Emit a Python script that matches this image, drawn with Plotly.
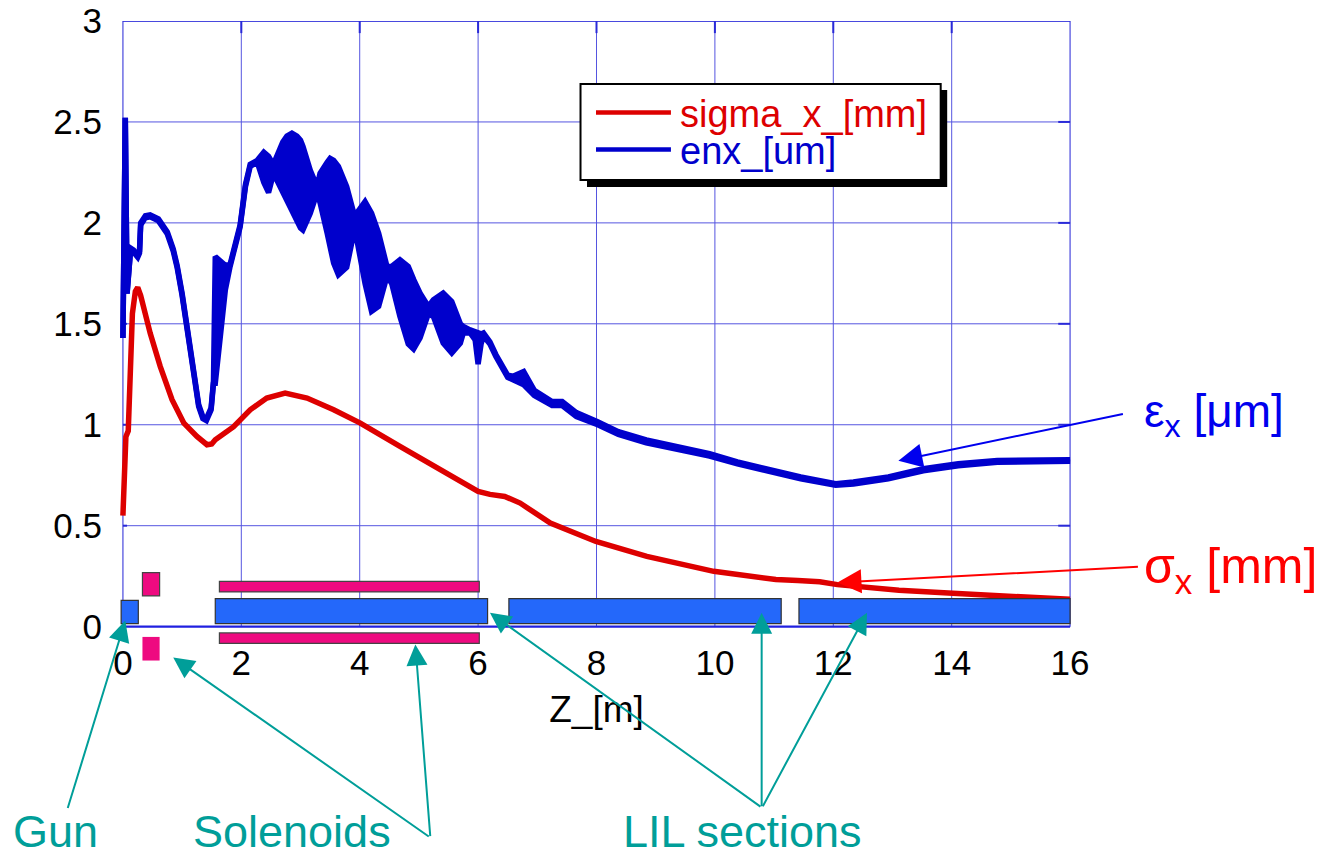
import plotly.graph_objects as go

# ---------------- data ----------------
z_sigma = [0.00, 0.02, 0.05, 0.09, 0.12, 0.16, 0.21, 0.25, 0.30, 0.46, 0.63, 0.83, 1.03,
           1.25, 1.42, 1.50, 1.56, 1.87, 2.15, 2.43, 2.74, 3.11, 3.56, 4.01, 4.68, 5.25,
           5.53, 6.00, 6.20, 6.45, 6.71, 7.05, 7.22, 7.99, 8.85, 9.98, 11.03, 11.40,
           11.77, 12.07, 13.11, 14.02, 15.01, 16.00]
sigma_x = [0.55, 0.75, 0.94, 0.97, 1.25, 1.55, 1.66, 1.68, 1.64, 1.454, 1.289, 1.124, 1.008,
           0.942, 0.901, 0.905, 0.926, 0.99, 1.074, 1.132, 1.157, 1.132, 1.074, 1.008, 0.893, 0.80,
           0.752, 0.67, 0.655, 0.645, 0.612, 0.546, 0.513, 0.422, 0.348, 0.274, 0.233, 0.228,
           0.222, 0.208, 0.18, 0.165, 0.15, 0.135]

z_enx = [0.00, 0.04, 0.07, 0.10, 0.13, 0.18, 0.25, 0.28, 0.30, 0.38, 0.46, 0.60, 0.75, 0.85,
         0.915, 1.00, 1.055, 1.168, 1.28, 1.35, 1.41, 1.49, 1.53, 1.56, 1.645, 1.73, 1.81,
         1.90, 1.98, 2.07, 2.15, 2.27, 2.32, 2.38, 2.46, 2.54, 2.57, 2.70, 2.77, 2.855, 2.94,
         3.00, 3.04, 3.165, 3.28, 3.33, 3.45, 3.50, 3.56, 3.64, 3.78, 3.90, 3.95, 4.09, 4.20,
         4.32, 4.46, 4.54, 4.68, 4.82, 4.91, 5.02, 5.16, 5.245, 5.41, 5.555, 5.70, 5.75, 5.865,
         5.95, 6.00, 6.05, 6.09, 6.20, 6.30, 6.50, 6.59, 6.77, 6.95, 7.10, 7.25, 7.42, 7.66,
         8.02, 8.37, 8.84, 9.38, 9.91, 10.38, 10.86, 11.45, 12.04, 12.34, 12.93, 13.18, 13.52,
         14.11, 14.59, 14.77, 16.00]
enx_lo = [1.43, 2.52, 1.65, 1.82, 1.865, 1.855, 1.83, 1.85, 1.99, 2.025, 2.03, 2.01, 1.945, 1.86,
          1.78, 1.64, 1.536, 1.289, 1.09, 1.03, 1.02, 1.074, 1.206, 1.206, 1.454, 1.668, 1.784,
          1.90, 1.98, 2.18, 2.28, 2.30, 2.246, 2.20, 2.15, 2.24, 2.23, 2.15, 2.114, 2.06, 2.00,
          1.975, 1.965, 2.048, 2.15, 2.10, 1.949, 1.88, 1.80, 1.743, 1.78, 1.95, 1.92, 1.70, 1.561,
          1.586, 1.735, 1.70, 1.536, 1.40, 1.375, 1.43, 1.55, 1.536, 1.404, 1.355, 1.404, 1.454, 1.455,
          1.42, 1.30, 1.40, 1.44, 1.40, 1.338, 1.235, 1.222, 1.198, 1.145, 1.12, 1.095, 1.095, 1.04,
          1.00, 0.952, 0.91, 0.879, 0.845, 0.806, 0.770, 0.732, 0.700, 0.707, 0.732, 0.748, 0.772,
          0.797, 0.806, 0.814, 0.819]
enx_hi = [1.43, 2.52, 1.65, 1.82, 1.875, 1.865, 1.84, 1.86, 2.00, 2.035, 2.04, 2.02, 1.955, 1.87,
          1.79, 1.65, 1.546, 1.299, 1.10, 1.04, 1.03, 1.084, 1.216, 1.833, 1.81, 1.79, 1.794,
          1.91, 1.99, 2.19, 2.29, 2.31, 2.33, 2.35, 2.33, 2.29, 2.31, 2.40, 2.43, 2.444, 2.43,
          2.41, 2.38, 2.26, 2.18, 2.246, 2.30, 2.32, 2.31, 2.28, 2.18, 2.048, 2.048, 2.105, 2.048,
          1.949, 1.784, 1.784, 1.817, 1.784, 1.72, 1.652, 1.586, 1.619, 1.652, 1.61, 1.50, 1.487, 1.47,
          1.46, 1.45, 1.45, 1.455, 1.41, 1.348, 1.245, 1.24, 1.264, 1.17, 1.14, 1.115, 1.115, 1.06,
          1.015, 0.966, 0.925, 0.891, 0.857, 0.816, 0.780, 0.741, 0.708, 0.716, 0.741, 0.757, 0.782,
          0.807, 0.815, 0.823, 0.827]

tick_z = [0, 2, 4, 6, 8, 10, 12, 14, 16]
tick_y = [0, 0.5, 1, 1.5, 2, 2.5, 3]
tick_y_text = ["0", "0.5", "1", "1.5", "2", "2.5", "3"]

# beam-line elements
gun_z = [-0.03, 0.26]
gun_y = [0.015, 0.13]
lil_z0 = [1.56, 6.52, 11.42]
lil_z1 = [6.16, 11.12, 16.0]
lil_y = [0.015, 0.139]
sol_z0 = [0.33, 1.63]
sol_z1 = [0.62, 6.02]
sol_top_y0 = [0.152, 0.172]
sol_top_y1 = [0.267, 0.224]
sol_bot_y0 = [-0.168, -0.083]
sol_bot_y1 = [-0.051, -0.031]

# ---------------- geometry ----------------
OFF = 8                      # page body margin
W, H = 1330 - OFF, 857 - OFF
XR = [-0.1, 16.1]
YR = [-0.2, 3.0]
ML = 116.575 - OFF
MT = 21 - OFF
PW = 959.85
PH = 646.4
MR = W - ML - PW
MB = H - MT - PH


def pxx(px):
    return (px - OFF - ML) / PW


def pxy(py):
    return (MT + PH - (py - OFF)) / PH


RED = "#DD0000"
BLUE = "#0000CC"
GRID = "#5555E0"
FRAME = "#2a2ad8"
TEAL = "#009E99"
LILC = "#2468FA"
PINK = "#EE0A80"
FONT = "Liberation Sans, Arial, sans-serif"

fig = go.Figure()
fig.add_trace(go.Scatter(x=z_sigma, y=sigma_x, mode="lines", name="sigma_x_[mm]",
                         line=dict(color=RED, width=5.5), showlegend=False))
fig.add_trace(go.Scatter(x=z_enx, y=enx_lo, mode="lines", name="enx_[um]", legendgroup="enx",
                         line=dict(color=BLUE, width=5.5), showlegend=False))
fig.add_trace(go.Scatter(x=z_enx, y=enx_hi, mode="lines", name="enx_[um]", legendgroup="enx",
                         line=dict(color=BLUE, width=5.5), fill="tonexty", fillcolor=BLUE,
                         showlegend=False))

shapes = []
# grid
for yv in tick_y[1:]:
    shapes.append(dict(type="line", xref="x", yref="y", x0=tick_z[0], x1=tick_z[-1], y0=yv, y1=yv,
                       line=dict(color=GRID, width=1), layer="below"))
for zv in tick_z:
    shapes.append(dict(type="line", xref="x", yref="y", x0=zv, x1=zv, y0=tick_y[0], y1=tick_y[-1],
                       line=dict(color=GRID, width=1.3 if zv in (tick_z[0], tick_z[-1]) else 1),
                       layer="below"))
# frame
shapes.append(dict(type="line", xref="x", yref="y", x0=tick_z[0], x1=tick_z[-1], y0=tick_y[-1], y1=tick_y[-1],
                   line=dict(color=FRAME, width=1.6), layer="below"))
shapes.append(dict(type="line", xref="x", yref="y", x0=tick_z[0], x1=tick_z[-1], y0=0, y1=0,
                   line=dict(color="#2020E0", width=2.2), layer="above"))
# small ticks (top / right / left)
for zv in tick_z[1:-1]:
    shapes.append(dict(type="line", xref="x", yref="y", x0=zv, x1=zv, y0=3.0, y1=2.94,
                       line=dict(color=FRAME, width=2), layer="below"))
for yv in tick_y[1:-1]:
    shapes.append(dict(type="line", xref="x", yref="y", x0=15.8, x1=16.0, y0=yv, y1=yv,
                       line=dict(color=FRAME, width=2), layer="below"))
    shapes.append(dict(type="line", xref="x", yref="y", x0=0, x1=0.07, y0=yv, y1=yv,
                       line=dict(color=FRAME, width=2), layer="below"))

# beam-line elements
shapes.append(dict(type="rect", xref="x", yref="y", x0=gun_z[0], x1=gun_z[1], y0=gun_y[0], y1=gun_y[1],
                   fillcolor=LILC, line=dict(color="#333333", width=1.2), layer="above"))
for a, b in zip(lil_z0, lil_z1):
    shapes.append(dict(type="rect", xref="x", yref="y", x0=a, x1=b, y0=lil_y[0], y1=lil_y[1],
                       fillcolor=LILC, line=dict(color="#333333", width=1.2), layer="above"))
for i, (a, b) in enumerate(zip(sol_z0, sol_z1)):
    shapes.append(dict(type="rect", xref="x", yref="y", x0=a, x1=b, y0=sol_top_y0[i], y1=sol_top_y1[i],
                       fillcolor=PINK, line=dict(color="#444444", width=1.2), layer="above"))
    shapes.append(dict(type="rect", xref="x", yref="y", x0=a, x1=b, y0=sol_bot_y0[i], y1=sol_bot_y1[i],
                       fillcolor=PINK, line=dict(color="#444444" if i else PINK, width=1.2 if i else 0),
                       layer="above"))

# legend box (drawn manually)
shapes.append(dict(type="rect", xref="paper", yref="paper", x0=pxx(587), x1=pxx(947.5),
                   y0=pxy(187), y1=pxy(90), fillcolor="black", line=dict(width=0), layer="above"))
shapes.append(dict(type="rect", xref="paper", yref="paper", x0=pxx(580.5), x1=pxx(941),
                   y0=pxy(180), y1=pxy(84), fillcolor="white", line=dict(color="black", width=2),
                   layer="above"))
shapes.append(dict(type="line", xref="paper", yref="paper", x0=pxx(596), x1=pxx(671),
                   y0=pxy(112.5), y1=pxy(112.5), line=dict(color=RED, width=4.5), layer="above"))
shapes.append(dict(type="line", xref="paper", yref="paper", x0=pxx(596), x1=pxx(671),
                   y0=pxy(149.5), y1=pxy(149.5), line=dict(color=BLUE, width=4.5), layer="above"))

ann = []
ann.append(dict(xref="paper", yref="paper", x=pxx(678), y=pxy(114), xanchor="left", yanchor="middle",
                text="sigma_x_[mm]", showarrow=False, font=dict(family=FONT, size=38, color=RED)))
ann.append(dict(xref="paper", yref="paper", x=pxx(678), y=pxy(151), xanchor="left", yanchor="middle",
                text="enx_[um]", showarrow=False, font=dict(family=FONT, size=38, color=BLUE)))
# right-hand labels
ann.append(dict(xref="paper", yref="paper", x=pxx(1142), y=pxy(415), xanchor="left", yanchor="middle",
                text="ε<sub>x</sub> [μm]", showarrow=False, font=dict(family=FONT, size=46, color="#0000EE")))
ann.append(dict(xref="paper", yref="paper", x=pxx(1142), y=pxy(570), xanchor="left", yanchor="middle",
                text="σ<sub>x</sub> [mm]", showarrow=False, font=dict(family=FONT, size=50, color="#FF0000")))
# bottom labels
ann.append(dict(xref="paper", yref="paper", x=pxx(55), y=pxy(832), xanchor="center", yanchor="middle",
                text="Gun", showarrow=False, font=dict(family=FONT, size=45, color=TEAL)))
ann.append(dict(xref="paper", yref="paper", x=pxx(292), y=pxy(832), xanchor="center", yanchor="middle",
                text="Solenoids", showarrow=False, font=dict(family=FONT, size=45, color=TEAL)))
ann.append(dict(xref="paper", yref="paper", x=pxx(742), y=pxy(832), xanchor="center", yanchor="middle",
                text="LIL sections", showarrow=False, font=dict(family=FONT, size=45, color=TEAL)))


def arrow(xd, yd, ax, ay, color, width, size):
    return dict(xref="x", yref="y", x=xd, y=yd, ax=ax, ay=ay, axref="pixel", ayref="pixel",
                text="", showarrow=True, arrowhead=2, arrowsize=size, arrowwidth=width,
                arrowcolor=color, standoff=0)


ann.append(arrow(13.1, 0.822, 226, -47, "#0000EE", 2, 2.4))
ann.append(arrow(12.07, 0.218, 302, -16, "#FF0000", 2, 2.4))
ann.append(arrow(0.04, 0.03, -58, 189, TEAL, 2, 2.1))
ann.append(arrow(0.85, -0.153, 257, 180, TEAL, 2, 2.1))
ann.append(arrow(4.94, -0.089, 15, 193, TEAL, 2, 2.1))
ann.append(arrow(6.2, 0.069, 272, 195, TEAL, 2, 2.1))
ann.append(arrow(10.79, 0.069, 0, 195, TEAL, 2, 2.1))
ann.append(arrow(12.57, 0.069, -105, 195, TEAL, 2, 2.1))

fig.update_layout(
    width=W, height=H, autosize=False,
    margin=dict(l=ML, r=MR, t=MT, b=MB, pad=0, autoexpand=False),
    paper_bgcolor="white", plot_bgcolor="white",
    showlegend=False,
    shapes=shapes, annotations=ann,
    font=dict(family=FONT, size=35, color="black"),
    xaxis=dict(range=XR, tickvals=tick_z, ticktext=[str(v) for v in tick_z],
               showgrid=False, zeroline=False, showline=False, ticks="", automargin=False,
               anchor="free", position=pxy(639.6), ticklabeloverflow="allow",
               tickfont=dict(family=FONT, size=35, color="black"),
               title=dict(text="Z_[m]", font=dict(family=FONT, size=37, color="black"), standoff=14)),
    yaxis=dict(range=YR, tickvals=tick_y, ticktext=tick_y_text,
               showgrid=False, zeroline=False, showline=False, ticks="", automargin=False,
               ticklabelstandoff=14, ticklabeloverflow="allow",
               tickfont=dict(family=FONT, size=35, color="black")),
)

fig.write_html("out.html")
